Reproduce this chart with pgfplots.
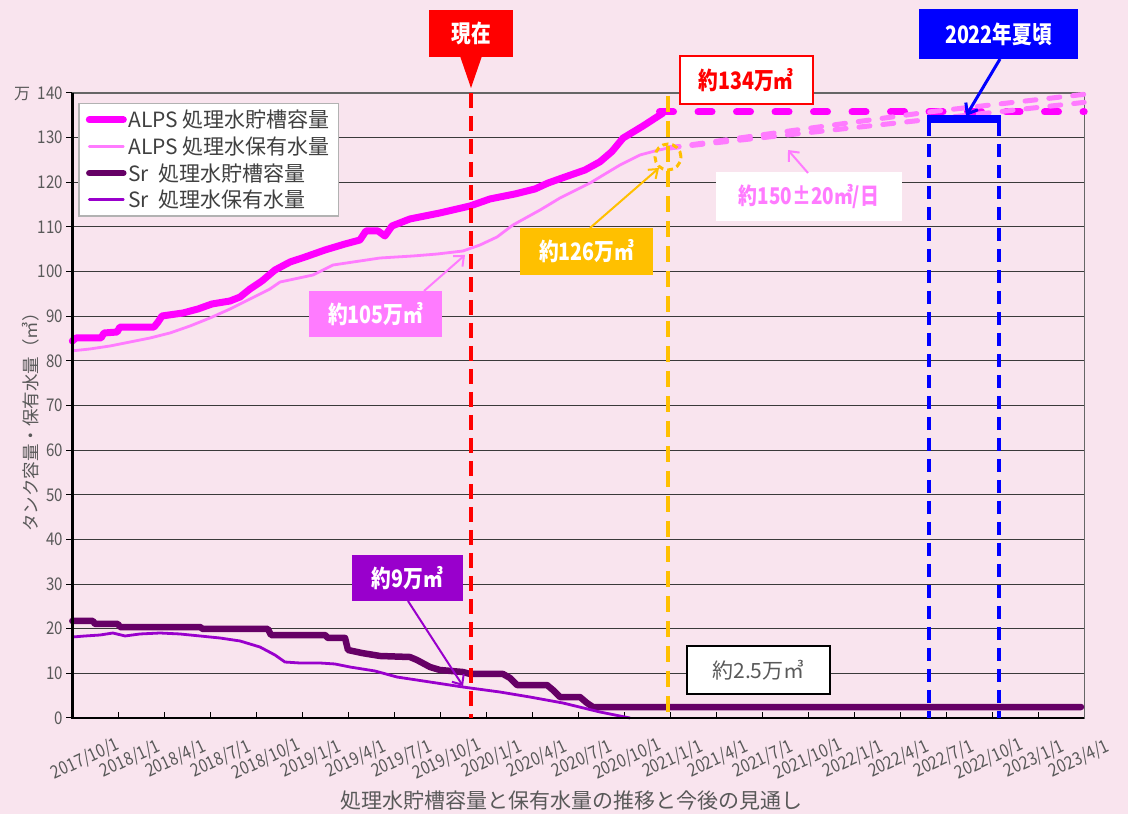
\documentclass[border=0pt]{standalone}
\usepackage{pgfplots}
\pgfplotsset{compat=1.18}
\usepackage{fontspec}
\setmainfont{Noto Sans CJK JP}
\newfontfamily\jpc{Noto Sans CJK JP}[FakeStretch=0.82]
\newfontfamily\jpn{Noto Sans CJK JP}[FakeStretch=0.86]
\usetikzlibrary{arrows.meta}
\definecolor{bg}{HTML}{F9E4EE}
\definecolor{alpscap}{HTML}{FF00FF}
\definecolor{alpsstore}{HTML}{FF7BFF}
\definecolor{srcap}{HTML}{660066}
\definecolor{srstore}{HTML}{9900CC}
\definecolor{orange1}{HTML}{FFC000}
\definecolor{tickgray}{HTML}{595959}
\definecolor{leggray}{HTML}{404040}
\definecolor{gridc}{HTML}{3A3A3A}
\newcommand\cfont[1]{\jpc\bfseries\fontsize{#1}{#1}\selectfont}
\begin{document}
\begin{tikzpicture}
\useasboundingbox (0,0) rectangle (1128pt,814pt);
\fill[bg] (0,0) rectangle (1128pt,814pt);
\begin{axis}[
  at={(72.3pt,96pt)}, anchor=south west,
  scale only axis, width=1012pt, height=625pt,
  xmin=0, xmax=66, ymin=0, ymax=140,
  clip=false,
  axis line style={draw=gray!80!black, line width=1.2pt},
  xtick={0,3,...,66}, xticklabels={},
  xtick pos=bottom, xtick align=inside,
  ytick={0,10,...,140}, ytick pos=left, ytick align=outside,
  major tick length=6pt,
  tick style={draw=black, line width=1pt},
  extra x ticks={0.85,3.797,6.744,9.691,12.638,15.585,18.532,21.479,24.426,27.373,30.32,33.267,36.214,39.161,42.108,45.055,48.002,50.949,53.896,56.843,59.79,62.737,65.684},
  extra x tick labels={2017/10/1,2018/1/1,2018/4/1,2018/7/1,2018/10/1,2019/1/1,2019/4/1,2019/7/1,2019/10/1,2020/1/1,2020/4/1,2020/7/1,2020/10/1,2021/1/1,2021/4/1,2021/7/1,2021/10/1,2022/1/1,2022/4/1,2022/7/1,2022/10/1,2023/1/1,2023/4/1},
  extra x tick style={major tick length=0pt, tick label style={yshift=-41pt, rotate=25, anchor=center, font=\jpn\fontsize{18}{18}\selectfont, text=tickgray}},
  yticklabel style={font=\jpn\fontsize{17.5}{17.5}\selectfont, text=tickgray},
  /pgf/number format/assume math mode=true,
  ymajorgrids, major grid style={draw=gridc, line width=1pt},
  legend style={at={(axis description cs:0.0057,0.984)}, anchor=north west, fill=white, draw=gray!60, line width=1.5pt, font=\fontsize{21}{24}\selectfont, text=leggray, inner xsep=7pt, inner ysep=5pt, row sep=4.5pt, nodes={inner sep=1.5pt}},
  legend cell align=left,
  legend image code/.code={\draw[#1, line cap=round] (0pt,0pt) -- (34pt,0pt);},
  after end axis/.code={\draw[black, line width=2.5pt] (rel axis cs:0,1) -- (rel axis cs:0,0) -- (rel axis cs:1,0);},
]
\addplot[alpscap, line width=7pt, line join=round, line cap=round] coordinates {
(0,84.45) (0.24,85.12) (1.87,85.12) (2.07,86.24) (2.92,86.46) (3.11,87.58) (5.33,87.58) (5.59,88.70) (5.85,90.05) (7.22,90.72) (8.20,91.62) (9.11,92.74) (10.29,93.41) (10.94,94.30) (11.59,96.10) (12.37,97.89) (13.22,100.35) (14.20,102.14) (15.18,103.26) (16.48,104.83) (17.79,106.18) (18.76,107.07) (19.15,109.09) (19.94,109.09) (20.39,107.97) (20.85,110.21) (22.02,111.78) (23.98,113.13) (25.94,114.69) (27.24,116.26) (28.87,117.38) (30.18,118.50) (31.03,119.84) (32.13,121.18) (33.44,122.75) (34.42,124.6) (35.2,126.9) (35.92,129.9) (37.22,132.6) (38.52,135.5)};
\addlegendentry{ALPS 処理水貯槽容量}
\addplot[alpsstore, line width=2.8pt, line join=round] coordinates {
(0,82.24) (1.15,82.66) (2.46,83.33) (3.76,84.22) (5.07,85.12) (6.37,86.24) (7.68,87.81) (8.98,89.60) (10.29,91.62) (11.59,93.86) (12.89,96.10) (13.55,97.66) (15.70,99.23) (17.01,101.47) (18.31,102.14) (20.07,103.04) (22.22,103.49) (23.79,103.93) (25.48,104.61) (26.59,105.95) (27.70,107.74) (28.74,110.43) (30.51,113.79) (31.81,116.48) (33.77,119.84) (35.72,123.87) (37.02,126.11) (38.0,127.01) (38.86,127.68)};
\addlegendentry{ALPS 処理水保有水量}
\addplot[srcap, line width=6.5pt, line join=round, line cap=round] coordinates {
(0,21.73) (1.35,21.73) (1.48,21.06) (2.98,21.06) (3.11,20.38) (8.33,20.38) (8.52,19.94) (12.76,19.94) (12.96,18.59) (16.48,18.59) (16.68,17.92) (17.79,17.92) (17.98,15.23) (18.89,14.56) (20.07,13.89) (22.02,13.66) (22.48,12.99) (23.33,11.42) (23.98,10.75) (25.48,10.30) (25.94,9.86) (28.09,9.86) (28.55,8.96) (29.0,7.39) (30.96,7.39) (31.35,6.27) (31.81,4.70) (33.11,4.70) (33.57,3.36) (33.96,2.46) (65.79,2.46)};
\addlegendentry{Sr\ \ 処理水貯槽容量}
\addplot[srstore, line width=2.8pt, line join=round] coordinates {
(0,18.14) (0.83,18.37) (1.81,18.59) (2.65,19.04) (3.44,18.37) (4.41,18.82) (5.72,19.04) (7.02,18.82) (8.33,18.37) (9.63,17.92) (10.94,17.25) (12.24,15.90) (13.22,14.11) (13.87,12.54) (14.85,12.32) (16.15,12.32) (17.13,12.10) (18.11,11.42) (19.74,10.53) (21.18,9.18) (23.33,8.06) (25.48,6.94) (27.89,5.82) (29.85,4.70) (32.0,3.36) (34.42,1.34) (36.38,0)};
\addlegendentry{Sr\ \ 処理水保有水量}
\addplot[alpscap, line width=7pt, line cap=round, dash pattern=on 14pt off 24.5pt, forget plot] coordinates {(38.3,135.75) (66,135.75)};
\addplot[alpsstore, line width=5pt, line cap=round, dash pattern=on 11pt off 13pt, forget plot] coordinates {(38.86,127.68) (47,131.6) (55.87,135.75) (66,139.7)};
\addplot[alpsstore, line width=5pt, line cap=round, dash pattern=on 11pt off 13pt, forget plot] coordinates {(38.86,127.68) (60.32,135.75) (66,137.9)};
\end{axis}
\begin{scope}[shift={(0pt,814pt)}, x=1pt, y=-1pt]
\draw[red, line width=4pt, dash pattern=on 15pt off 8pt] (470.7,93) -- (470.7,718);
\draw[orange1, line width=4.5pt, dash pattern=on 16pt off 9pt] (668,96) -- (668,718);
\draw[blue, line width=4pt, dash pattern=on 13pt off 8pt] (929,123) -- (929,718);
\draw[blue, line width=4pt, dash pattern=on 13pt off 8pt] (998.5,123) -- (998.5,718);
\draw[blue, line width=8pt] (927,119) -- (1000.5,119);
\draw[orange1, line width=3pt, dash pattern=on 6pt off 4pt] (668,157) circle (13pt);
% callouts
\fill[red] (429,10) rectangle (513,57);
\fill[red] (460,56) -- (482,56) -- (471,88) -- cycle;
\node[text=white, font=\cfont{24}] at (471,33) {現在};
\node[draw=red, line width=2pt, fill=white, inner sep=0pt, minimum width=133pt, minimum height=48pt, text=red, font=\cfont{24}] at (746,80) {約134万㎥};
\node[fill=blue, inner sep=0pt, minimum width=159pt, minimum height=50pt, text=white, font=\cfont{24}] at (998.5,34) {2022年夏頃};
\draw[blue, line width=3pt, -{Straight Barb[length=9pt,width=14pt]}] (1000,59) -- (966,116);
\node[fill=white, inner sep=0pt, minimum width=186pt, minimum height=49pt, text=alpsstore, font=\cfont{23}] at (809,196.5) {約150±20㎥/日};
\draw[alpsstore, line width=2pt, -{Straight Barb[length=8pt,width=14pt]}] (808,173) -- (788,150);
\node[fill=orange1, inner sep=0pt, minimum width=133pt, minimum height=47pt, text=white, font=\cfont{24}] at (586.5,251.5) {約126万㎥};
\draw[orange1, line width=2pt, -{Straight Barb[length=8pt,width=12pt]}] (590,228) -- (659,168);
\node[fill=alpsstore, inner sep=0pt, minimum width=133pt, minimum height=46pt, text=white, font=\cfont{24}] at (375.5,314) {約105万㎥};
\draw[alpsstore, line width=2pt, -{Straight Barb[length=8pt,width=14pt]}] (424,291) -- (465,255);
\node[fill=srstore, inner sep=0pt, minimum width=111pt, minimum height=46pt, text=white, font=\cfont{24}] at (407.5,578) {約9万㎥};
\draw[srstore, line width=2pt, -{Straight Barb[length=8pt,width=14pt]}] (408,601) -- (463,686);
\node[draw=black, line width=1.5pt, fill=white, inner sep=0pt, minimum width=143pt, minimum height=48pt, text=tickgray, font=\fontsize{21}{21}\selectfont] at (758.5,670) {約2.5万㎥};
% axis texts
\node[text=tickgray, font=\fontsize{16}{16}\selectfont] at (22,94) {万};
\node[rotate=90, text=tickgray, font=\fontsize{17.5}{17.5}\selectfont] at (31,418) {タンク容量・保有水量（㎥）};
\node[text=tickgray, font=\fontsize{21}{21}\selectfont] at (571,801) {処理水貯槽容量と保有水量の推移と今後の見通し};
\end{scope}
\end{tikzpicture}
\end{document}
